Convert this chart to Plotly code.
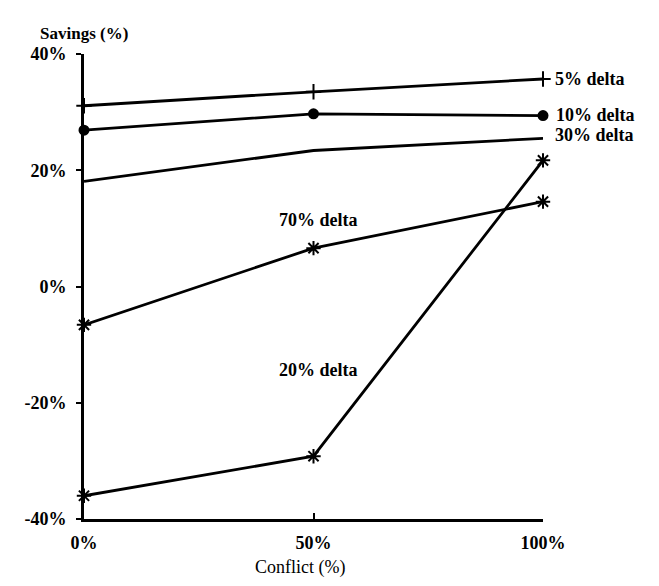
import plotly.graph_objects as go

conflict = [0, 50, 100]
delta5 = [31.1, 33.5, 35.7]
delta10 = [26.9, 29.7, 29.4]
delta30 = [18.1, 23.4, 25.5]
delta70 = [-6.6, 6.6, 14.6]
delta20 = [-36.0, -29.2, 21.7]

y_ticks = [-40, -20, 0, 20, 40]
y_tick_text = ["-40%", "-20%", "0%", "20%", "40%"]
x_ticks = [0, 50, 100]
x_tick_text = ["0%", "50%", "100%"]

FONT = "Liberation Serif"
fig = go.Figure()

def add(y, symbol, size, name):
    fig.add_trace(go.Scatter(
        x=conflict, y=y, mode="lines+markers" if symbol else "lines",
        name=name,
        line=dict(color="black", width=2.8),
        marker=dict(symbol=symbol or "circle", size=size, color="black",
                    line=dict(color="black", width=2)),
        cliponaxis=False, showlegend=False))

add(delta5, "cross-thin-open", 11, "5% delta")
add(delta10, "circle", 9, "10% delta")
add(delta30, None, 0, "30% delta")
add(delta70, "asterisk-open", 12, "70% delta")
add(delta20, "asterisk-open", 12, "20% delta")

ann_font = dict(family=FONT, size=18, color="black")
fig.add_annotation(x=100, y=delta5[-1], text="<b>5% delta</b>", xanchor="left",
                   xshift=10, showarrow=False, font=ann_font)
fig.add_annotation(x=100, y=delta10[-1], text="<b>10% delta</b>", xanchor="left",
                   xshift=11, yshift=1, showarrow=False, font=ann_font)
fig.add_annotation(x=100, y=delta30[-1], text="<b>30% delta</b>", xanchor="left",
                   xshift=10, yshift=3, showarrow=False, font=ann_font)
fig.add_annotation(x=51, y=11.4, text="<b>70% delta</b>", showarrow=False, font=ann_font)
fig.add_annotation(x=51, y=-14.4, text="<b>20% delta</b>", showarrow=False, font=ann_font)

fig.add_annotation(x=0, y=1, xref="paper", yref="paper", xanchor="center",
                   text="<b>Savings (%)</b>", showarrow=False, xshift=0, yshift=32,
                   font=dict(family=FONT, size=17, color="black"))
fig.add_annotation(x=0.47, y=0, xref="paper", yref="paper",
                   text="Conflict (%)", showarrow=False, yshift=-61,
                   font=dict(family=FONT, size=18, color="black"))

fig.update_xaxes(range=[0, 100], tickvals=x_ticks, ticktext=[f"<b>{t}</b>" for t in x_tick_text],
                 showgrid=False, zeroline=False, showline=True, linecolor="black", linewidth=2.8,
                 ticks="inside", ticklen=6, tickwidth=2, tickcolor="black",
                 tickfont=dict(family=FONT, size=18, color="black"), ticklabelstandoff=5)
fig.update_yaxes(range=[-40, 40], tickvals=y_ticks, ticktext=[f"<b>{t}</b>" for t in y_tick_text],
                 showgrid=False, zeroline=False, showline=True, linecolor="black", linewidth=2.8,
                 ticks="outside", ticklen=5, tickwidth=2, tickcolor="black",
                 tickfont=dict(family=FONT, size=18, color="black"), ticklabelstandoff=6)

fig.update_layout(width=659, height=586, plot_bgcolor="white", paper_bgcolor="white",
                  margin=dict(l=76, r=124, t=46, b=75))
fig.write_html("out.html")
